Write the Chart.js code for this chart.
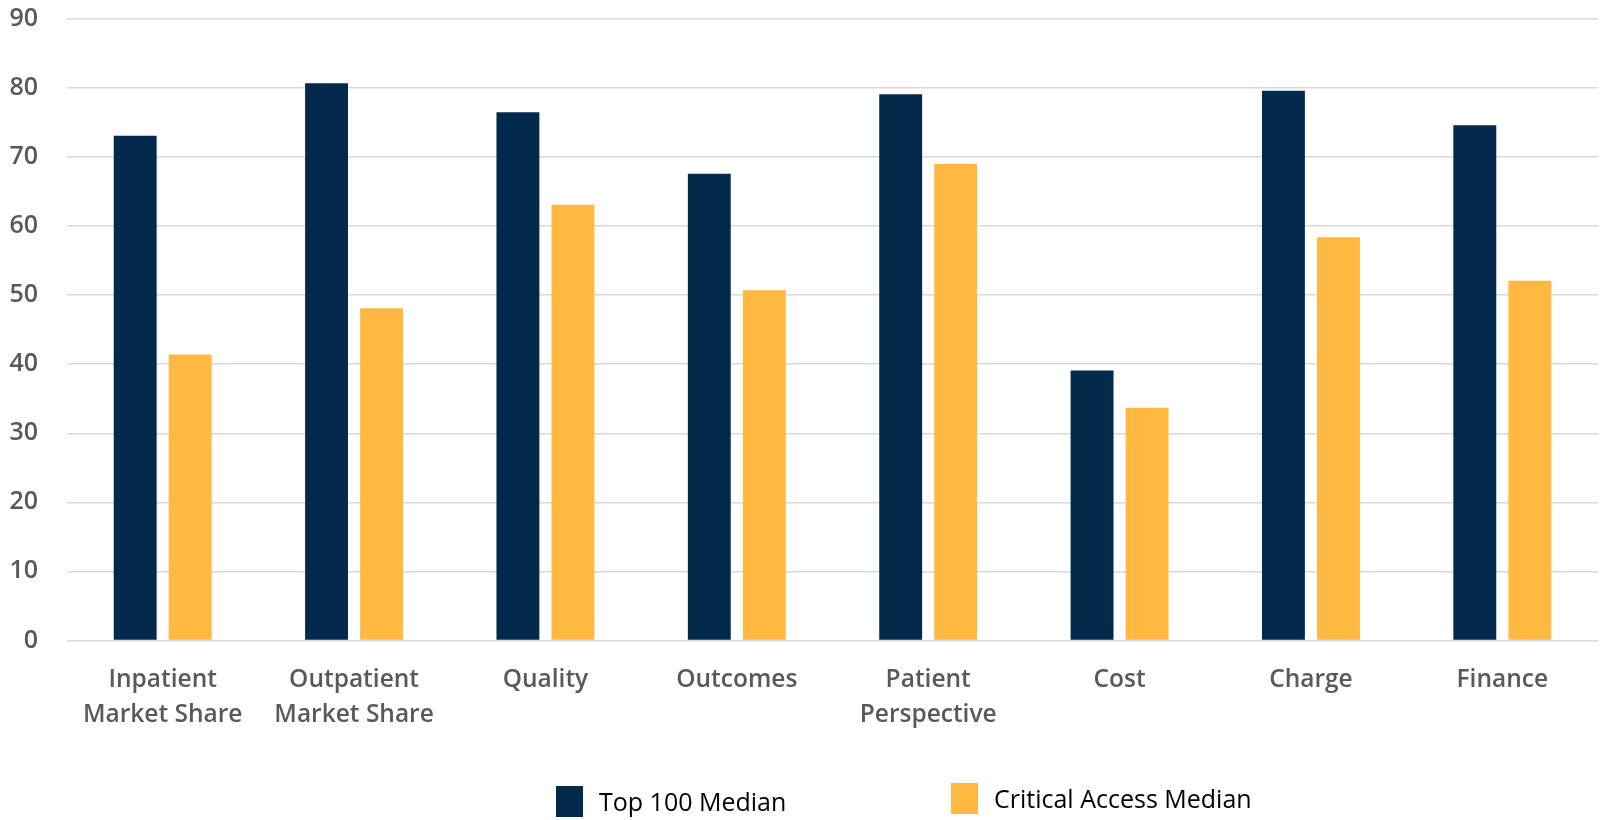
<!DOCTYPE html>
<html>
<head>
<meta charset="utf-8">
<script src="https://cdn.jsdelivr.net/npm/chart.js@4.4.1/dist/chart.umd.min.js"></script>
<style>
    html, body { margin: 0; padding: 0; background: #fff; }
    #wrap { position: relative; width: 1600px; height: 820px; }
    #legend { position: absolute; left: 0; top: 0; width: 1600px; height: 820px; pointer-events: none;
              font-family: 'Open Sans', sans-serif; font-size: 25px; color: #000; }
    .legend-item { position: absolute; display: flex; align-items: center; white-space: nowrap; }
    .legend-box { display: inline-block; width: 27px; height: 31px; margin-right: 16px; }
</style>
</head>
<body>
<div id="wrap">
    <canvas id="median-chart"></canvas>
    <div id="legend"></div>
</div>
<script>
const categories = [
    ["Inpatient", "Market Share"],
    ["Outpatient", "Market Share"],
    "Quality",
    "Outcomes",
    ["Patient", "Perspective"],
    "Cost",
    "Charge",
    "Finance"
];
const seriesNames = ["Top 100 Median", "Critical Access Median"];
const top100Median = [73.1, 80.7, 76.5, 67.6, 79.1, 39.1, 79.6, 74.6];
const criticalAccessMedian = [41.4, 48.1, 63.1, 50.7, 69.0, 33.7, 58.4, 52.1];
const yTicks = [0, 10, 20, 30, 40, 50, 60, 70, 80, 90];

const seriesColors = ["#03294D", "#FFB940"];
const labelGray = "#595959";

// legend sits under the plot, second item a touch higher as in the original
const legendSpots = [{ left: 556, top: 784 }, { left: 951, top: 781 }];

function renderLegend() {
    const legend = document.getElementById("legend");
    legend.innerHTML = "";
    seriesNames.forEach((name, i) => {
        const item = document.createElement("div");
        item.className = "legend-item";
        item.style.left = legendSpots[i].left + "px";
        item.style.top = legendSpots[i].top + "px";
        item.innerHTML = `<span class="legend-box" style="background:${seriesColors[i]}"></span><span>${name}</span>`;
        legend.appendChild(item);
    });
}

const ctx = document.getElementById("median-chart").getContext("2d");
const chart = new Chart(ctx, {
    type: "bar",
    data: {
        labels: categories,
        datasets: [
            { label: seriesNames[0], data: top100Median, backgroundColor: seriesColors[0] },
            { label: seriesNames[1], data: criticalAccessMedian, backgroundColor: seriesColors[1] }
        ]
    },
    options: {
        responsive: true,
        maintainAspectRatio: false,
        animation: false,
        layout: { padding: { left: 0, right: 2, top: 19, bottom: 66 } },
        datasets: { bar: { categoryPercentage: 0.575, barPercentage: 0.78 } },
        scales: {
            x: {
                grid: { display: false, drawTicks: false },
                border: { display: false },
                ticks: {
                    color: labelGray,
                    padding: 22,
                    font: { family: "'Open Sans'", size: 24.5, weight: 600, lineHeight: 1.42 }
                }
            },
            y: {
                min: 0,
                max: 90,
                afterBuildTicks: (axis) => { axis.ticks = yTicks.map(v => ({ value: v })); },
                afterFit: (axis) => { axis.width = 67; },
                // invisible tick marks give the label gap without padding the top
                grid: { color: "#D9D9D9", lineWidth: 1.5, drawTicks: true, tickLength: 29, tickColor: "rgba(0,0,0,0)" },
                border: { display: false },
                ticks: {
                    color: labelGray,
                    padding: 0,
                    font: { family: "'Open Sans'", size: 25, weight: 600 }
                }
            }
        },
        plugins: {
            tooltip: { enabled: false },
            legend: { display: false }
        }
    }
});

renderLegend();
</script>
</body>
</html>
